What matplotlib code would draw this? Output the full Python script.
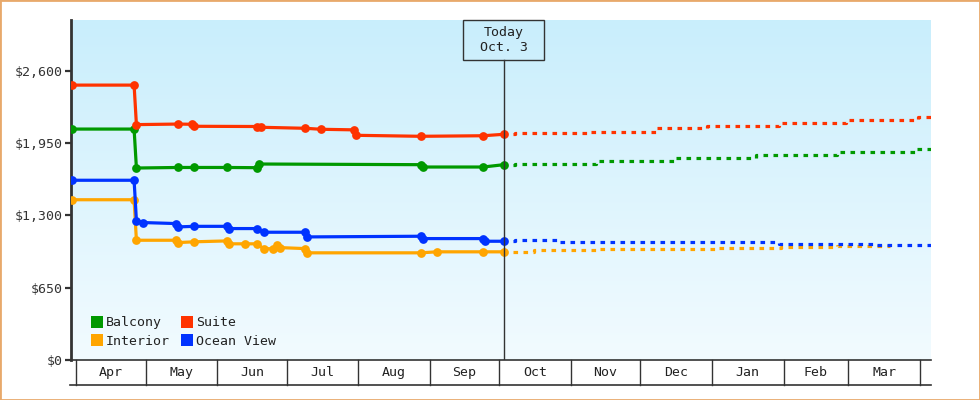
import matplotlib
matplotlib.use('Agg')
import matplotlib.pyplot as plt
import matplotlib.dates as mdates
import numpy as np
import pandas as pd
from matplotlib.patches import Rectangle
from matplotlib.lines import Line2D
from matplotlib.colors import LinearSegmentedColormap

plt.rcParams['font.family'] = ['DejaVu Sans Mono', 'DejaVu Sans']
plt.rcParams['lines.scale_dashes'] = False

# ---------------- data ----------------
balcony_dates = ['2018-03-30', '2018-04-26', '2018-04-27', '2018-05-15', '2018-05-22',
                 '2018-06-05', '2018-06-18', '2018-06-19', '2018-08-28', '2018-08-29',
                 '2018-09-24', '2018-10-03']
balcony_vals = [2075, 2075, 1725, 1730, 1730, 1730, 1728, 1761, 1755, 1734, 1734, 1755]

suite_dates = ['2018-03-30', '2018-04-26', '2018-04-27', '2018-05-15', '2018-05-21',
               '2018-05-22', '2018-06-18', '2018-06-20', '2018-07-09', '2018-07-16',
               '2018-07-30', '2018-07-31', '2018-08-28', '2018-09-24', '2018-10-03']
suite_vals = [2470, 2470, 2115, 2120, 2118, 2100, 2098, 2091, 2082, 2073, 2068, 2019,
              2010, 2015, 2028]

ocean_dates = ['2018-03-30', '2018-04-26', '2018-04-27', '2018-04-30', '2018-05-14',
               '2018-05-15', '2018-05-22', '2018-06-05', '2018-06-06', '2018-06-18',
               '2018-06-21', '2018-07-09', '2018-07-10', '2018-08-28', '2018-08-29',
               '2018-09-24', '2018-09-25', '2018-10-03']
ocean_vals = [1615, 1615, 1253, 1235, 1226, 1196, 1201, 1201, 1181, 1181, 1148, 1148,
              1106, 1112, 1091, 1091, 1067, 1067]

interior_dates = ['2018-03-30', '2018-04-26', '2018-04-27', '2018-05-14', '2018-05-15',
                  '2018-05-22', '2018-06-05', '2018-06-06', '2018-06-13', '2018-06-18',
                  '2018-06-21', '2018-06-25', '2018-06-27', '2018-06-28', '2018-07-09',
                  '2018-07-10', '2018-08-28', '2018-09-04', '2018-09-24', '2018-10-03']
interior_vals = [1440, 1440, 1076, 1076, 1055, 1062, 1070, 1044, 1044, 1044, 1001, 999,
                 1031, 1010, 1001, 963, 963, 972, 972, 972]

# forecasts (dashed)
suite_fc_dates = ['2018-10-07', '2018-10-08', '2018-11-08', '2018-12-08', '2018-12-30',
                  '2019-01-30', '2019-02-28', '2019-03-31', '2019-04-06']
suite_fc_vals = [2028, 2039, 2053, 2082, 2100, 2127, 2154, 2179, 2179]

balcony_fc_dates = ['2018-10-07', '2018-10-08', '2018-11-12', '2018-12-16', '2019-01-20',
                    '2019-02-24', '2019-03-30', '2019-04-06']
balcony_fc_vals = [1755, 1759, 1790, 1817, 1844, 1868, 1894, 1894]

ocean_fc_dates = ['2018-10-07', '2018-10-08', '2018-10-27', '2019-01-30', '2019-03-13',
                  '2019-04-06']
ocean_fc_vals = [1067, 1076, 1062, 1044, 1031, 1031]

interior_fc_dates = ['2018-10-07', '2018-10-16', '2018-11-12', '2019-01-03', '2019-01-31',
                     '2019-02-24', '2019-03-19']
interior_fc_vals = [972, 986, 995, 1008, 1019, 1026, 1026]

month_labels = ['Apr', 'May', 'Jun', 'Jul', 'Aug', 'Sep', 'Oct', 'Nov', 'Dec', 'Jan', 'Feb', 'Mar']
y_ticks = [0, 650, 1300, 1950, 2600]
y_tick_labels = ['$0', '$650', '$1,300', '$1,950', '$2,600']
today = '2018-10-03'
today_label = 'Today\nOct. 3'

colors = {'Balcony': '#009900', 'Suite': '#ff3300', 'Interior': '#ffa500', 'Ocean View': '#0033ff'}

# ---------------- figure ----------------
fig = plt.figure(figsize=(9.8, 4), dpi=100)
ax = fig.add_axes([71 / 980, 40 / 400, 860 / 980, 340 / 400])

start = mdates.date2num(pd.Timestamp('2018-04-01'))
x0, x1 = start - 2.3, start + 369.8
y0, y1 = 0, 3055
ax.set_xlim(x0, x1)
ax.set_ylim(y0, y1)

# background gradient
cmap = LinearSegmentedColormap.from_list('bg', ['#c9eefc', '#f2fbff'])
ax.imshow(np.linspace(0, 1, 256).reshape(-1, 1), extent=[x0, x1, y0, y1], aspect='auto',
          cmap=cmap, origin='upper', zorder=0, interpolation='bilinear')

lw = 2.3
ms = 6.3


def solid(dates, vals, color):
    ax.plot(pd.to_datetime(dates), vals, color=color, lw=lw, marker='o', ms=ms,
            markeredgewidth=0, zorder=3, solid_joinstyle='miter')


def dashed(dates, vals, color):
    ax.plot(pd.to_datetime(dates), vals, color=color, lw=lw, drawstyle='steps-post',
            linestyle=(0, (3.3, 3.9)), zorder=3)


solid(interior_dates, interior_vals, colors['Interior'])
solid(ocean_dates, ocean_vals, colors['Ocean View'])
solid(balcony_dates, balcony_vals, colors['Balcony'])
solid(suite_dates, suite_vals, colors['Suite'])
dashed(interior_fc_dates, interior_fc_vals, colors['Interior'])
dashed(ocean_fc_dates, ocean_fc_vals, colors['Ocean View'])
dashed(balcony_fc_dates, balcony_fc_vals, colors['Balcony'])
dashed(suite_fc_dates, suite_fc_vals, colors['Suite'])

# axes styling
for s in ['top', 'right']:
    ax.spines[s].set_visible(False)
ax.spines['left'].set_linewidth(2.0)
ax.spines['left'].set_color('#333333')
ax.spines['bottom'].set_linewidth(1.2)
ax.spines['bottom'].set_color('#333333')
ax.set_yticks(y_ticks)
ax.set_yticklabels(y_tick_labels)
ax.tick_params(axis='y', length=4, width=1.6, color='#333333', pad=2,
               labelsize=9.5, labelcolor='#333333')
ax.set_xticks([])

# month boxes under the axis
trans = ax.get_xaxis_transform()
row_h = 25 / 340
month_starts = pd.date_range('2018-04-01', periods=len(month_labels) + 1, freq='MS')
for ms_ in month_starts:
    ax.plot([ms_, ms_], [0, -row_h], transform=trans, color='#333333', lw=1.0,
            clip_on=False, zorder=5)
for i, lab in enumerate(month_labels):
    mid = month_starts[i] + (month_starts[i + 1] - month_starts[i]) / 2
    ax.text(mid, -row_h / 2, lab, transform=trans, ha='center', va='center',
            fontsize=9.5, color='#222222')
ax.plot([-1 / 860, 1], [-row_h, -row_h], transform=ax.transAxes, color='#333333',
        lw=1.2, clip_on=False)

# today marker
t = mdates.date2num(pd.Timestamp(today))
tfrac = (t - x0) / (x1 - x0)
box_bottom = 300 / 340
ax.plot([pd.Timestamp(today)] * 2, [0, box_bottom], transform=trans, color='#333333',
        lw=1.0, zorder=4)
ax.add_patch(Rectangle((tfrac - 40.5 / 860, box_bottom), 81 / 860, 40 / 340,
                       transform=ax.transAxes, fill=False, ec='#333333', lw=1.0,
                       clip_on=False, zorder=4))
ax.text(pd.Timestamp(today), box_bottom + 20 / 340, today_label, transform=trans,
        ha='center', va='center', fontsize=9.5, color='#222222', linespacing=1.25,
        zorder=5)

# legend
order = ['Balcony', 'Interior', 'Suite', 'Ocean View']
handles = [Line2D([], [], marker='s', linestyle='none', color=colors[k], markersize=8,
                  markeredgewidth=0) for k in order]
ax.legend(handles, order, ncol=2, loc='lower left', bbox_to_anchor=(0.022, 0.035),
          frameon=False, fontsize=9.5, handlelength=1.0, handletextpad=0.2,
          columnspacing=0.8, labelspacing=0.45, borderpad=0, borderaxespad=0,
          labelcolor='#222222')

# outer border
fig.patches.append(Rectangle((0, 0), 1, 1, transform=fig.transFigure, fill=False,
                             ec='#e8a96b', lw=2.0))

fig.savefig('out.png', dpi=100)
